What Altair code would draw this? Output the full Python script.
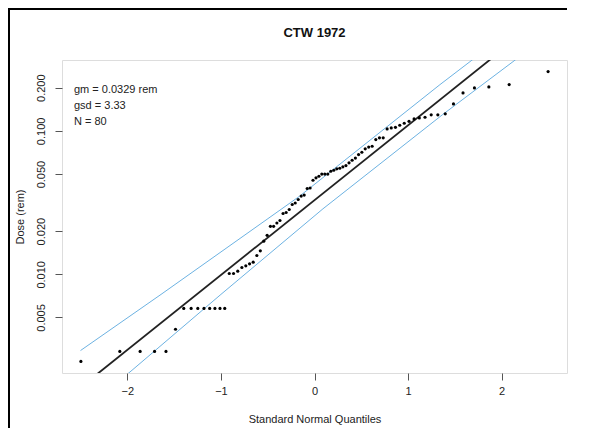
import altair as alt
import pandas as pd

# ---- text ----
title_text = "CTW 1972"
x_title = "Standard Normal Quantiles"
y_title = "Dose (rem)"
stats_lines = ["gm = 0.0329 rem", "gsd = 3.33", "N = 80"]

# ---- data: standard normal quantiles (x) and sorted doses (rem) ----
quantiles = [
    -2.496, -2.080, -1.863, -1.709, -1.587, -1.485, -1.397, -1.318, -1.247, -1.181,
    -1.120, -1.064, -1.010, -0.959, -0.911, -0.865, -0.820, -0.776, -0.734, -0.694,
    -0.655, -0.616, -0.579, -0.542, -0.506, -0.471, -0.437, -0.402, -0.369, -0.336,
    -0.303, -0.270, -0.238, -0.206, -0.174, -0.142, -0.110, -0.078, -0.047, -0.016,
    0.016, 0.047, 0.078, 0.110, 0.142, 0.174, 0.206, 0.238, 0.270, 0.303,
    0.336, 0.369, 0.402, 0.437, 0.471, 0.506, 0.542, 0.579, 0.616, 0.655,
    0.694, 0.734, 0.776, 0.820, 0.865, 0.911, 0.959, 1.010, 1.064, 1.120,
    1.181, 1.247, 1.318, 1.397, 1.485, 1.587, 1.709, 1.863, 2.080, 2.496,
]
doses = [
    0.00247, 0.0029, 0.0029, 0.0029, 0.0029, 0.00414, 0.00578, 0.00578, 0.00578, 0.00578,
    0.00578, 0.00578, 0.00578, 0.00578, 0.01013, 0.01013, 0.01051, 0.01115, 0.01146, 0.01183,
    0.01215, 0.01352, 0.01458, 0.01701, 0.01870, 0.0216, 0.0216, 0.02278, 0.02371, 0.02653,
    0.02696, 0.02829, 0.03065, 0.03140, 0.03321, 0.03512, 0.03569, 0.03962, 0.03994, 0.04525,
    0.04704, 0.04826, 0.0500, 0.0500, 0.0500, 0.05230, 0.05314, 0.05435, 0.05488, 0.05612,
    0.05731, 0.05984, 0.06239, 0.06464, 0.06836, 0.07094, 0.07491, 0.07710, 0.07810, 0.08699,
    0.08939, 0.08939, 0.1032, 0.1049, 0.1059, 0.1094, 0.1130, 0.1166, 0.1212, 0.1232,
    0.1244, 0.1293, 0.1293, 0.1314, 0.1542, 0.1840, 0.1994, 0.2025, 0.2102, 0.2589,
]

# fitted line (gm, gsd) end points
ref_z = [-2.7, 2.7]
ref_v = [0.00128, 0.845]

# confidence band
upper_z = [-2.5, -1.64, -0.16, 1.34, 1.69, 2.5]
upper_v = [0.00294, 0.00724, 0.0350, 0.210, 0.314, 0.83]
lower_z = [-2.5, -1.94, -1.0, 0.09, 1.37, 2.15, 2.5]
lower_v = [0.00107, 0.00217, 0.00724, 0.0286, 0.130, 0.314, 0.48]

y_ticks = [0.005, 0.01, 0.02, 0.05, 0.1, 0.2]
x_ticks = [-2, -1, 0, 1, 2]
x_domain = [-2.698, 2.698]
y_domain = [0.00205, 0.312]

FONT = "Liberation Sans"
W, H = 505, 313

pts = pd.DataFrame({"q": quantiles, "dose": doses})
ref = pd.DataFrame({"q": ref_z, "dose": ref_v})
upper = pd.DataFrame({"q": upper_z, "dose": upper_v})
lower = pd.DataFrame({"q": lower_z, "dose": lower_v})

xs = alt.Scale(domain=x_domain, nice=False, zero=False)
ys = alt.Scale(type="log", domain=y_domain, nice=False)

x_axis = alt.Axis(values=x_ticks, format="d", title=x_title, grid=False, domain=False,
                  tickSize=7, tickColor="#555", labelPadding=5, labelFontSize=11,
                  titleFontSize=11, titleFontWeight="normal", titleY=46,
                  titleBaseline="middle", labelColor="#222", titleColor="#222",
                  labelFont=FONT, titleFont=FONT)
y_axis = alt.Axis(values=y_ticks, format=".3f", title=y_title, grid=False, domain=False,
                  tickSize=7, tickColor="#555", labelAngle=270, labelAlign="center",
                  labelBaseline="bottom", labelPadding=9, labelFontSize=11,
                  titleFontSize=11, titleFontWeight="normal", titleAngle=270,
                  titleX=-42, titleY=H / 2, titleAlign="center", titleBaseline="middle",
                  labelColor="#222", titleColor="#222", labelFont=FONT, titleFont=FONT)

points = alt.Chart(pts).mark_circle(size=10, color="black", opacity=1).encode(
    x=alt.X("q:Q", scale=xs, axis=x_axis),
    y=alt.Y("dose:Q", scale=ys, axis=y_axis),
)

ref_line = alt.Chart(ref).mark_line(color="#222", strokeWidth=1.8, clip=True).encode(
    x=alt.X("q:Q", scale=xs), y=alt.Y("dose:Q", scale=ys))
up_line = alt.Chart(upper).mark_line(color="#6cb2e2", strokeWidth=1, clip=True).encode(
    x=alt.X("q:Q", scale=xs), y=alt.Y("dose:Q", scale=ys))
low_line = alt.Chart(lower).mark_line(color="#6cb2e2", strokeWidth=1, clip=True).encode(
    x=alt.X("q:Q", scale=xs), y=alt.Y("dose:Q", scale=ys))

one = pd.DataFrame({"a": [0]})

stats = alt.Chart(one).mark_text(
    align="left", baseline="middle", fontSize=11, font=FONT, color="#222",
    lineHeight=15.8,
).encode(x=alt.value(12), y=alt.value(30), text=alt.value(stats_lines))

title_mark = alt.Chart(one).mark_text(
    align="center", baseline="middle", fontSize=13, fontWeight="bold", font=FONT,
    color="#111", clip=False,
).encode(x=alt.value(W / 2), y=alt.value(-27), text=alt.value(title_text))

frame_left = alt.Chart(one).mark_rect(color="black", clip=False).encode(
    x=alt.value(-54), x2=alt.value(-52), y=alt.value(-52), y2=alt.value(H + 60))
frame_top = alt.Chart(one).mark_rect(color="black", clip=False).encode(
    x=alt.value(-54), x2=alt.value(W), y=alt.value(-52), y2=alt.value(-50))

chart = alt.layer(up_line, low_line, ref_line, points, stats, title_mark,
                  frame_left, frame_top).properties(
    width=W, height=H,
    autosize=alt.AutoSizeParams(type="none"),
    padding={"left": 54, "top": 52, "right": 14, "bottom": 55},
).configure_view(stroke="#666", strokeWidth=1).configure(background="white")

chart.save("out.html", embed_options={"renderer": "svg", "actions": False})
